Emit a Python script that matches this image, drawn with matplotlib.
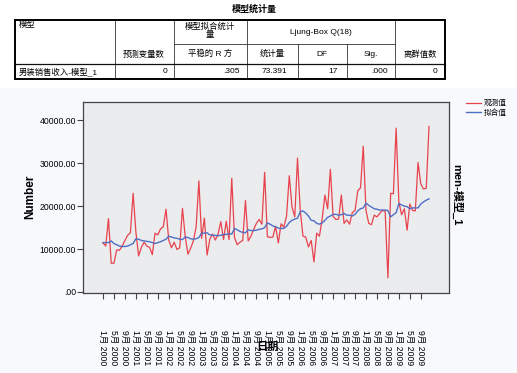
import matplotlib
matplotlib.use('Agg')
import matplotlib.pyplot as plt
from matplotlib.patches import Rectangle

plt.rcParams['font.family'] = ['Liberation Sans', 'Noto Sans CJK SC', 'DejaVu Sans']

### monthly values, Jan 2000 .. Dec 2009
observed = [
    11400, 10700, 17100, 6700, 6700, 9800, 9700, 10700, 12000, 13200, 13800, 23000,
    14000, 8400, 10400, 11600, 10700, 10400, 8700, 13700, 13300, 14700, 15200, 19300,
    12100, 10300, 11600, 9900, 10300, 19500, 13000, 8800, 10200, 11900, 15200, 25900,
    12500, 17200, 8600, 12300, 13500, 12100, 13500, 16400, 12200, 16500, 12200, 26500,
    12700, 11000, 11600, 12000, 21300, 11900, 13000, 14600, 16000, 16900, 15800, 27900,
    12900, 12700, 12800, 15300, 11400, 15900, 15100, 17700, 27100, 19800, 17500, 31200,
    19000, 13000, 12800, 10500, 12000, 7000, 13700, 13000, 17000, 22600, 19400, 28600,
    17600, 16900, 17000, 22600, 16000, 16800, 15800, 18500, 19000, 23600, 24300, 34000,
    19000, 16000, 15700, 17900, 17500, 18300, 19000, 18800, 3300, 23000, 22900, 38200,
    21000, 18000, 19400, 14400, 20500, 19000, 18900, 30200, 25200, 24000, 24200, 38600,
]
fitted = [
    11500, 11500, 11500, 11900, 11300, 11000, 10700, 10600, 10600, 10700, 11000, 11300,
    12400, 12300, 12000, 11900, 11800, 11700, 11500, 11300, 11500, 11700, 12000, 12300,
    13000, 12800, 12600, 12500, 12300, 12200, 12800, 12700, 12400, 12300, 12400, 12700,
    13700, 13700, 13800, 13300, 13200, 13200, 13100, 13200, 13400, 13400, 13600, 13500,
    14800, 14500, 14100, 13900, 13800, 14500, 14300, 14300, 14400, 14600, 14700, 15000,
    16100, 15800, 15400, 15200, 14900, 14800, 14800, 15300, 16200, 16700, 17000, 17200,
    18700, 18900, 18400, 17700, 16700, 16600, 16000, 15800, 16100, 16700, 17400, 17700,
    18100, 18100, 17900, 18000, 18300, 17900, 17900, 17700, 18100, 18900, 19400, 19600,
    20700, 20200, 19800, 19400, 19300, 19100, 19100, 19100, 19000, 17500, 18000, 18500,
    20600, 20300, 20000, 19900, 19400, 19600, 19600, 19600, 20500, 21000, 21400, 21700,
]

years = list(range(2000, 2010))
tick_months = [1, 5, 9]
tick_labels = [f'{m}月 {y}' for y in years for m in tick_months]
y_ticks = [0, 10000, 20000, 30000, 40000]
y_tick_labels = ['.00', '10000.00', '20000.00', '30000.00', '40000.00']
series_names = ['观测值', '拟合值']

### model statistics table
table_title = '模型统计量'
model_name = '男装销售收入-模型_1'
table_values = ['0', '.305', '73.391', '17', '.000', '0']

fig = plt.figure(figsize=(5.17, 3.73), dpi=100)
fig.patch.set_facecolor('white')

# pixel-space layer for the table and background
bg = fig.add_axes([0, 0, 1, 1])
bg.set_xlim(0, 517)
bg.set_ylim(373, 0)
bg.axis('off')
bg.add_patch(Rectangle((0, 88), 517, 285, color='#f7f9fc', lw=0, zorder=0))

bg.text(254, 9, table_title, ha='center', va='center', fontsize=6.5, fontweight='bold')
col_x = [15, 115, 174, 247, 298, 347, 395, 445]
bg.add_patch(Rectangle((15, 20), 430, 59, fill=False, lw=1.4, ec='black', zorder=3))
for cx in [115, 174, 247, 395]:
    bg.plot([cx, cx], [20, 79], color='#333333', lw=0.6)
for cx in [298, 347]:
    bg.plot([cx, cx], [44, 79], color='#333333', lw=0.6)
bg.plot([174, 395], [44, 44], color='#333333', lw=0.6)
bg.plot([15, 445], [64, 64], color='#111111', lw=0.9)

fs = 6
bg.text(19, 25, '模型', ha='left', va='center', fontsize=fs)
bg.text(144, 55, '预测变量数', ha='center', va='center', fontsize=fs)
bg.text(210, 31, '模型拟合统计\n量', ha='center', va='center', fontsize=fs, linespacing=0.95)
bg.text(210, 54, '平稳的 R 方', ha='center', va='center', fontsize=fs)
bg.text(321, 32, 'Ljung-Box Q(18)', ha='center', va='center', fontsize=fs)
bg.text(272, 54, '统计量', ha='center', va='center', fontsize=fs)
bg.text(322, 54, 'DF', ha='center', va='center', fontsize=fs)
bg.text(371, 54, 'Sig.', ha='center', va='center', fontsize=fs)
bg.text(420, 55, '离群值数', ha='center', va='center', fontsize=fs)
bg.text(19, 71.5, model_name, ha='left', va='center', fontsize=fs)
value_right = [167, 240, 287, 338, 388, 437]
for vx, v in zip(value_right, table_values):
    bg.text(vx, 71.5, v, ha='right', va='center', fontsize=fs)

# sequence chart
ax = fig.add_axes([83 / 517, 1 - 293 / 373, 366 / 517, 191 / 373])
x = list(range(len(observed)))
ax.plot(x, observed, color='#e8434d', lw=0.9, label=series_names[0])
ax.plot(x, fitted, color='#4f6fc4', lw=1.0, label=series_names[1])
ax.set_facecolor('#ebecee')
ax.set_xlim(-7.3, 126.3)
ax.set_ylim(-250, 44300)
ax.set_yticks(y_ticks, y_tick_labels, fontsize=6.2)
ax.set_xticks(list(range(0, len(observed), 4)), tick_labels, rotation=270, fontsize=6.2)
ax.tick_params(axis='x', length=4, pad=23, color='#444444')
ax.tick_params(axis='y', length=4, pad=1, color='#444444')
for s in ax.spines.values():
    s.set_color('#444444')
    s.set_linewidth(0.9)

fig.text(30 / 517, 1 - 197 / 373, 'Number', rotation=90, ha='center', va='center',
         fontsize=8.5, fontweight='bold')
fig.text(267 / 517, 1 - 347 / 373, '日期', ha='center', va='center',
         fontsize=8, fontweight='bold')
fig.text(457 / 517, 1 - 195 / 373, 'men-模型_1', rotation=270, ha='center', va='center',
         fontsize=8, fontweight='bold')

fig.legend(loc='upper left', bbox_to_anchor=(466 / 517, 1 - 100 / 373), frameon=False,
           fontsize=5.5, handlelength=1.9, handletextpad=0.4, labelspacing=0.25,
           borderaxespad=0, borderpad=0)

fig.savefig('out.png', dpi=100)
